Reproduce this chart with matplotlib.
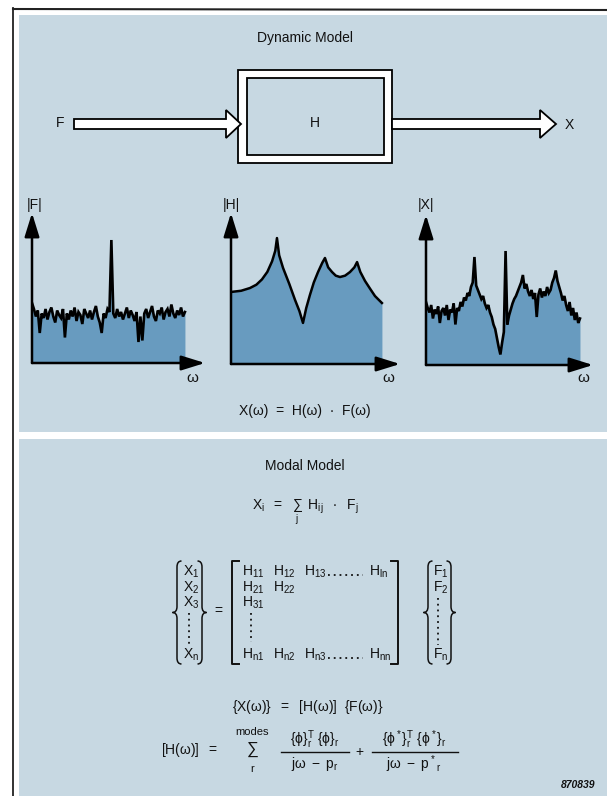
import matplotlib
matplotlib.use('Agg')
import matplotlib.pyplot as plt
from matplotlib.patches import Rectangle, Polygon, PathPatch
from matplotlib.path import Path
import numpy as np

plt.rcParams['font.family'] = ['Liberation Sans', 'DejaVu Sans']
plt.rcParams['mathtext.fontset'] = 'custom'
plt.rcParams['mathtext.rm'] = 'Liberation Sans'
plt.rcParams['mathtext.it'] = 'Liberation Sans:italic'
plt.rcParams['mathtext.bf'] = 'Liberation Sans:bold'
plt.rcParams['mathtext.sf'] = 'Liberation Sans'
plt.rcParams['mathtext.default'] = 'regular'

# ---------------- data ----------------
# |F| : input force spectrum (fraction of axis height)
F_mag = [0.40, 0.36, 0.31, 0.35, 0.20, 0.33, 0.30, 0.36, 0.29, 0.34,
         0.37, 0.31, 0.27, 0.35, 0.32, 0.30, 0.36, 0.17, 0.33, 0.29,
         0.35, 0.31, 0.37, 0.28, 0.34, 0.32, 0.26, 0.36, 0.33, 0.30,
         0.35, 0.29, 0.34, 0.38, 0.31, 0.27, 0.20, 0.33, 0.30, 0.36,
         0.34, 0.82, 0.33, 0.30, 0.36, 0.31, 0.34, 0.29, 0.33, 0.37,
         0.30, 0.35, 0.32, 0.28, 0.34, 0.14, 0.31, 0.15, 0.33, 0.36,
         0.30, 0.34, 0.38, 0.31, 0.28, 0.35, 0.33, 0.37, 0.29, 0.34,
         0.36, 0.31, 0.39, 0.33, 0.30, 0.35, 0.32, 0.37, 0.31, 0.34]
F_wmax = 0.884

# |H| : frequency response function
H_w = [0, 0.06, 0.112, 0.15, 0.183, 0.215, 0.243, 0.262, 0.272, 0.285,
       0.308, 0.345, 0.379, 0.405, 0.426, 0.445, 0.467, 0.49, 0.515, 0.54,
       0.556, 0.575, 0.598, 0.62, 0.645, 0.675, 0.704, 0.73, 0.746, 0.765,
       0.793, 0.825, 0.852, 0.893]
H_mag = [0.477, 0.485, 0.503, 0.525, 0.56, 0.61, 0.68, 0.75, 0.834, 0.72,
         0.636, 0.53, 0.424, 0.35, 0.272, 0.37, 0.457, 0.54, 0.609, 0.67,
         0.702, 0.64, 0.609, 0.585, 0.576, 0.585, 0.609, 0.64, 0.675, 0.61,
         0.55, 0.495, 0.45, 0.404]

# |X| : response spectrum
X_mag = [0.42, 0.38, 0.35, 0.40, 0.31, 0.37, 0.34, 0.39, 0.28, 0.36,
         0.38, 0.33, 0.40, 0.30, 0.37, 0.35, 0.41, 0.27, 0.38, 0.36,
         0.42, 0.39, 0.45, 0.43, 0.48, 0.46, 0.52, 0.55, 0.72, 0.53,
         0.50, 0.47, 0.44, 0.46, 0.41, 0.38, 0.40, 0.35, 0.32, 0.27,
         0.24, 0.18, 0.12, 0.07, 0.15, 0.22, 0.76, 0.27, 0.33, 0.37,
         0.41, 0.44, 0.46, 0.49, 0.52, 0.55, 0.60, 0.51, 0.54, 0.49,
         0.46, 0.50, 0.44, 0.48, 0.32, 0.47, 0.51, 0.45, 0.49, 0.46,
         0.52, 0.48, 0.50, 0.55, 0.58, 0.63, 0.56, 0.52, 0.48, 0.43,
         0.46, 0.40, 0.36, 0.42, 0.33, 0.38, 0.30, 0.35, 0.28, 0.31]
X_wmax = 0.922

plot_labels = ['|F|', '|H|', '|X|']

# ---------------- figure ----------------
W, Hh = 607, 796
fig = plt.figure(figsize=(W / 100, Hh / 100), dpi=100)
fig.patch.set_facecolor('white')
bg = fig.add_axes([0, 0, 1, 1])
bg.set_xlim(0, W)
bg.set_ylim(Hh, 0)
bg.axis('off')

PANEL = '#c7d8e2'
FILL = '#689bbf'

bg.add_patch(Rectangle((19, 15), W - 19, 432 - 15, fc=PANEL, ec='none'))
bg.add_patch(Rectangle((19, 439), W - 19, Hh - 439, fc=PANEL, ec='none'))
bg.plot([13, 13], [8, Hh], color='#222222', lw=1.3)
bg.plot([13, W], [9, 10], color='#222222', lw=1.5)


def t(x, y, s, size=10, ha='center', va='center', **kw):
    bg.text(x, y, s, fontsize=size, ha=ha, va=va, color='#111111', **kw)


# ---- block diagram ----
t(305, 38, 'Dynamic Model', 10)
bg.add_patch(Rectangle((238, 70), 154, 93, fc='white', ec='k', lw=1.3))
bg.add_patch(Rectangle((247, 78), 137, 77, fc=PANEL, ec='k', lw=1.3))
t(315, 123, 'H', 10)
arrow_in = [(74, 119), (226, 119), (226, 110), (241, 124), (226, 138),
            (226, 129), (74, 129)]
bg.add_patch(Polygon(arrow_in, closed=True, fc='white', ec='k', lw=1.3,
                     joinstyle='miter'))
arrow_out = [(392, 119), (540, 119), (540, 110), (556, 124), (540, 138),
             (540, 129), (392, 129)]
bg.add_patch(Polygon(arrow_out, closed=True, fc='white', ec='k', lw=1.3,
                     joinstyle='miter'))
t(60, 123, 'F', 10)
t(569, 125, 'X', 10)


# ---- spectra ----
def spec_axes(left, right, bottom, top):
    ax = fig.add_axes([left / W, (Hh - bottom) / Hh, (right - left) / W,
                       (bottom - top) / Hh])
    ax.set_xlim(0, 1)
    ax.set_ylim(0, 1)
    ax.axis('off')
    ax.patch.set_alpha(0)
    ap = dict(arrowstyle='-|>,head_length=0.9,head_width=0.28', lw=1.8,
              color='k', shrinkA=0, shrinkB=0, mutation_scale=16)
    ax.annotate('', xy=(0, 1.0), xytext=(0, 0), xycoords='axes fraction',
                arrowprops=ap, annotation_clip=False)
    ax.annotate('', xy=(1.0, 0), xytext=(0, 0), xycoords='axes fraction',
                arrowprops=ap, annotation_clip=False)
    return ax


axF = spec_axes(32, 205, 363, 213)
wF = np.linspace(0, F_wmax, len(F_mag))
axF.fill_between(wF, 0, F_mag, color=FILL, lw=0)
axF.plot(wF, F_mag, color='k', lw=1.9, solid_joinstyle='miter')

axH = spec_axes(231, 400, 364, 213)
axH.fill_between(H_w, 0, H_mag, color=FILL, lw=0)
axH.plot(H_w, H_mag, color='k', lw=1.8)

axX = spec_axes(426, 593, 365, 215)
wX = np.linspace(0, X_wmax, len(X_mag))
axX.fill_between(wX, 0, X_mag, color=FILL, lw=0)
axX.plot(wX, X_mag, color='k', lw=1.9, solid_joinstyle='miter')

for (lx, ly), lab in zip([(35, 205), (231, 205), (426, 205)], plot_labels):
    t(lx, ly, lab, 10)
for ox in [192, 388, 583]:
    t(ox, 378, 'ω', 11)

t(305, 411, 'X(ω)  =  H(ω)  ·  F(ω)', 10)

# ---- modal model ----
t(305, 466, 'Modal Model', 10)
t(305, 512, r'$X_i\ \ =\ \ \sum_j\ \ H_{ij}\ \ \cdot\ \ F_j$', 10)


def brace(x, y0, y1, w, side):
    s = -1 if side == 'left' else 1
    ym = (y0 + y1) / 2
    r = 6
    xe = x - s * w / 2
    xt = x + s * w / 2
    verts = [(xe, y0), (x, y0), (x, y0 + r), (x, ym - r), (x, ym), (xt, ym),
             (x, ym), (x, ym + r), (x, y1 - r), (x, y1), (xe, y1)]
    codes = [Path.MOVETO, Path.CURVE3, Path.CURVE3, Path.LINETO, Path.CURVE3,
             Path.CURVE3, Path.CURVE3, Path.CURVE3, Path.LINETO, Path.CURVE3,
             Path.CURVE3]
    bg.add_patch(PathPatch(Path(verts, codes), fc='none', ec='#111111',
                           lw=1.1))


def bracket(x, y0, y1, side):
    d = 7 if side == 'left' else -7
    bg.plot([x + d, x, x, x + d], [y0, y0, y1, y1], color='#111111', lw=1.4)


def vdots(x, y0, y1):
    bg.plot([x, x], [y0, y1], color='#111111', lw=1.3, ls=(0, (1, 2.2)))


def hdots(x0, x1, y):
    bg.plot([x0, x1], [y, y], color='#111111', lw=1.3, ls=(0, (1, 2.2)))


# X vector
brace(177, 561, 664, 9, 'left')
brace(202, 561, 664, 9, 'right')
for lab, y in [(r'$X_1$', 572), (r'$X_2$', 588), (r'$X_3$', 603),
               (r'$X_n$', 655)]:
    t(183, y, lab, 10, ha='left')
vdots(189, 613, 645)

t(218, 611, '=', 10)

# H matrix
bracket(232, 561, 664, 'left')
bracket(398, 561, 664, 'right')
row1 = [(r'$H_{11}$', 242), (r'$H_{12}$', 273), (r'$H_{13}$', 304),
        (r'$H_{ln}$', 369)]
rown = [(r'$H_{n1}$', 242), (r'$H_{n2}$', 273), (r'$H_{n3}$', 304),
        (r'$H_{nn}$', 369)]
for lab, x in row1:
    t(x, 572, lab, 10, ha='left')
for lab, x in rown:
    t(x, 655, lab, 10, ha='left')
t(242, 588, r'$H_{21}$', 10, ha='left')
t(273, 588, r'$H_{22}$', 10, ha='left')
t(242, 603, r'$H_{31}$', 10, ha='left')
hdots(328, 363, 575)
hdots(328, 363, 658)
vdots(251, 613, 642)

# F vector
brace(428, 561, 664, 9, 'left')
brace(451, 561, 664, 9, 'right')
for lab, y in [(r'$F_1$', 572), (r'$F_2$', 588), (r'$F_n$', 655)]:
    t(433, y, lab, 10, ha='left')
vdots(438, 598, 645)

# ---- bottom equations ----
t(308, 707, r'$\{X(ω)\}\ \ =\ \ [H(ω)]\ \ \{F(ω)\}$', 10)

t(190, 750, r'$[H(ω)]\ \ =$', 10)
t(252, 750, r'$\sum$', 12)
t(252, 732, 'modes', 8)
t(252, 769, 'r', 8)

t(315, 740, r'$\{\phi\}_r^T\ \{\phi\}_r$', 10)
bg.plot([281, 349], [752, 752], color='#111111', lw=1.0)
t(315, 764, r'$jω\ -\ p_r$', 10)
t(359, 752, '+', 10)
t(414, 740, r'$\{\phi^*\}_r^T\ \{\phi^*\}_r$', 10)
bg.plot([372, 458], [752, 752], color='#111111', lw=1.0)
t(414, 764, r'$jω\ -\ p^*{}_r$', 10)

t(595, 785, '870839', 7.5, ha='right', style='italic', weight='bold')

fig.savefig('out.png', dpi=100)
